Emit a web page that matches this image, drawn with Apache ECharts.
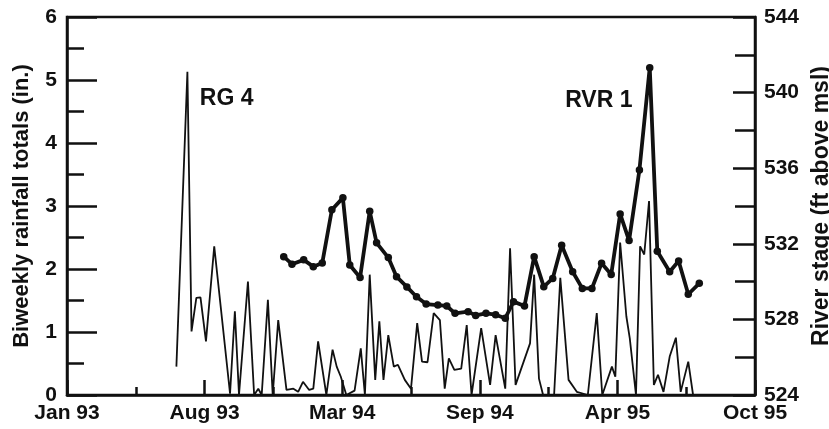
<!DOCTYPE html>
<html>
<head>
<meta charset="utf-8">
<title>Rainfall and river stage</title>
<script src="https://cdn.jsdelivr.net/npm/echarts@6/dist/echarts.min.js"></script>
<style>
  html, body { margin: 0; padding: 0; background: #fff; }
  #chart { width: 829px; height: 429px; }
</style>
</head>
<body>
<div id="chart"></div>
<script>
// Horizontal position: days counted from the first axis tick (Jan 93).
var tickLabels = ['Jan 93', 'Aug 93', 'Mar 94', 'Sep 94', 'Apr 95', 'Oct 95'];

// RG 4 rain gauge, biweekly rainfall totals (in.)
var rainDays = [159, 175, 181, 188, 194, 202, 214, 237, 244, 250, 263, 272, 278, 283, 292, 299,
  307, 319, 329, 336, 343, 352, 358, 365, 377, 386, 392, 398, 406, 418, 427, 433,
  440, 448, 454, 460, 467, 475, 481, 491, 500, 509, 516, 524, 533, 542, 549, 555,
  563, 573, 581, 588, 602, 615, 623, 637, 644, 652, 673, 679, 686, 692, 708, 717,
  729, 741, 757, 770, 778, 792, 797, 804, 813, 818, 827, 833, 839, 846, 853, 859,
  867, 876, 885, 892, 903, 910];
var rainValues = [0.45, 5.13, 1.01, 1.54, 1.55, 0.85, 2.36, 0.02, 1.33, 0, 1.80, 0, 0.10, 0, 1.51, 0,
  1.19, 0.08, 0.10, 0.05, 0.21, 0.08, 0.10, 0.85, 0, 0.72, 0.45, 0.29, 0, 0.07, 0.74, 0,
  1.91, 0.24, 1.17, 0.24, 0.95, 0.45, 0.48, 0.24, 0.10, 1.14, 0.53, 0.52, 1.30, 1.19, 0.10, 0.58,
  0.40, 0.42, 1.11, 0, 1.06, 0.16, 0.95, 0.10, 2.33, 0.16, 0.82, 1.91, 0.26, 0, 0, 1.86,
  0.24, 0.05, 0, 1.30, 0, 0.45, 0.29, 2.42, 1.25, 0.90, 0, 2.36, 2.23, 3.08, 0.16, 0.32,
  0.05, 0.61, 0.91, 0.05, 0.53, 0];

// RVR 1 river gauge, stage (ft above msl)
var riverDays = [315, 327, 344, 358, 371, 385, 401, 411, 426, 440, 450, 467, 479, 494, 508, 522,
  539, 552, 564, 583, 594, 609, 623, 637, 649, 665, 679, 693, 706, 719, 735, 749,
  763, 777, 791, 804, 817, 832, 847, 858, 876, 889, 903, 919];
var riverStage = [531.32, 530.92, 531.15, 530.79, 530.98, 533.80, 534.43, 530.88, 530.22, 533.72, 532.05, 531.27, 530.26, 529.72, 529.20, 528.81,
  528.76, 528.71, 528.32, 528.41, 528.21, 528.32, 528.25, 528.06, 528.94, 528.71, 531.32, 529.73, 530.17, 531.92, 530.52, 529.64,
  529.64, 530.97, 530.38, 533.58, 532.17, 535.90, 541.32, 531.60, 530.52, 531.09, 529.33, 529.91];

// Series name tags, placed in data coordinates of their own series
var rainTag = { text: 'RG 4', day: 232, value: 4.71 };
var riverTag = { text: 'RVR 1', day: 773, value: 539.6 };

function pairs(xs, ys) {
  return xs.map(function (x, i) { return [x, ys[i]]; });
}

var FONT = 'Liberation Sans, Arial, Helvetica, sans-serif';
var INK = '#111';
var labelStyle = { color: INK, fontFamily: FONT, fontWeight: 'bold', fontSize: 21 };

function tagMark(tag) {
  return {
    symbol: 'circle',
    symbolSize: 1,
    itemStyle: { color: 'rgba(0,0,0,0)' },
    data: [{ coord: [tag.day, tag.value] }],
    label: {
      show: true, position: 'inside', formatter: tag.text,
      color: INK, fontFamily: FONT, fontWeight: 'bold', fontSize: 23
    }
  };
}

var chart = echarts.init(document.getElementById('chart'), null, { renderer: 'canvas' });

chart.setOption({
  animation: false,
  backgroundColor: '#fff',
  grid: {
    left: 67, right: 74, top: 17, bottom: 34,
    outerBoundsMode: 'none',
    containLabel: false,
    show: true, borderColor: INK, borderWidth: 2.5, backgroundColor: 'transparent'
  },
  xAxis: {
    type: 'value',
    min: 0, max: 1000, interval: 200,
    axisLine: { show: true, onZero: false, lineStyle: { color: INK, width: 2.5 } },
    axisTick: { show: true, inside: true, length: 15, lineStyle: { color: INK, width: 2.5 } },
    minorTick: { show: true, splitNumber: 2, length: 8, lineStyle: { color: INK, width: 2.5 } },
    splitLine: { show: false },
    axisLabel: Object.assign({
      margin: 8,
      formatter: function (v) { return tickLabels[Math.round(v / 200)] || ''; }
    }, labelStyle)
  },
  yAxis: [
    {
      type: 'value',
      position: 'left',
      min: 0, max: 6, interval: 1,
      name: 'Biweekly rainfall totals (in.)',
      nameLocation: 'middle', nameRotate: 90, nameGap: 34,
      nameTextStyle: { color: INK, fontFamily: FONT, fontWeight: 'bold', fontSize: 22 },
      axisLine: { show: true, onZero: false, lineStyle: { color: INK, width: 2.5 } },
      axisTick: { show: true, inside: true, length: 30, lineStyle: { color: INK, width: 2.5 } },
      minorTick: { show: true, splitNumber: 2, length: 17, lineStyle: { color: INK, width: 2.5 } },
      splitLine: { show: false },
      axisLabel: Object.assign({ margin: 10 }, labelStyle)
    },
    {
      type: 'value',
      position: 'right',
      min: 524, max: 544, interval: 4,
      name: 'River stage (ft above msl)',
      nameLocation: 'middle', nameRotate: 90, nameGap: 52,
      nameTextStyle: { color: INK, fontFamily: FONT, fontWeight: 'bold', fontSize: 23 },
      axisLine: { show: true, onZero: false, lineStyle: { color: INK, width: 2.5 } },
      axisTick: { show: true, inside: true, length: 22, lineStyle: { color: INK, width: 2.5 } },
      minorTick: { show: true, splitNumber: 2, length: 20, lineStyle: { color: INK, width: 2.5 } },
      splitLine: { show: false },
      axisLabel: Object.assign({ margin: 9 }, labelStyle)
    }
  ],
  series: [
    {
      name: 'RG 4',
      type: 'line',
      xAxisIndex: 0, yAxisIndex: 0,
      data: pairs(rainDays, rainValues),
      showSymbol: false,
      symbol: 'none',
      lineStyle: { color: INK, width: 1.8 },
      markPoint: tagMark(rainTag),
      z: 2
    },
    {
      name: 'RVR 1',
      type: 'line',
      xAxisIndex: 0, yAxisIndex: 1,
      data: pairs(riverDays, riverStage),
      symbol: 'circle',
      symbolSize: 7.5,
      showSymbol: true,
      itemStyle: { color: INK },
      lineStyle: { color: INK, width: 3.8 },
      markPoint: tagMark(riverTag),
      z: 3
    }
  ]
});
</script>
</body>
</html>
